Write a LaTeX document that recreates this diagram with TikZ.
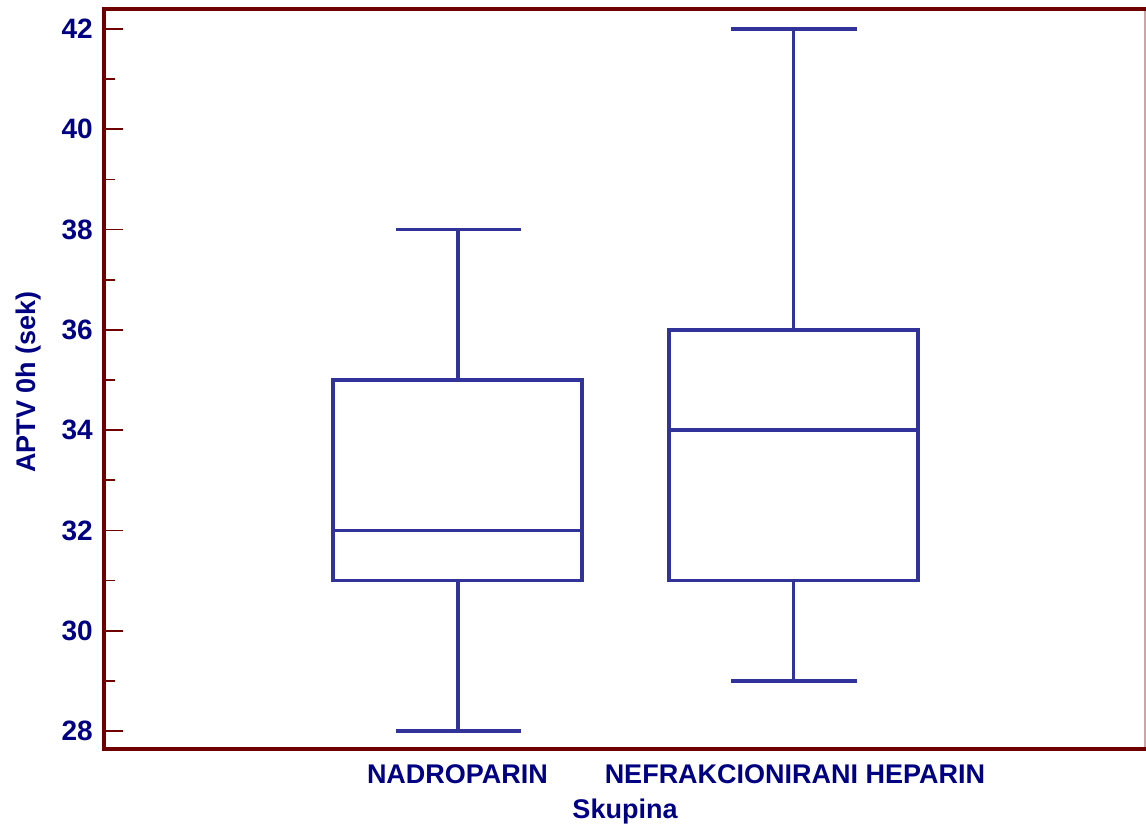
\documentclass[tikz,border=0pt]{standalone}
\usepackage{fontspec}
\setmainfont{Liberation Sans}
\definecolor{frame}{RGB}{110,0,0}
\definecolor{boxc}{RGB}{50,50,155}
\definecolor{txt}{RGB}{0,0,130}
\begin{document}
\begin{tikzpicture}[x=1pt,y=-1pt,
  framel/.style={draw=frame,line width=4pt},
  tickl/.style={draw=frame,line width=1.8pt},
  boxl/.style={draw=boxc,line width=3.6pt,line cap=rect},
  whisk/.style={draw=boxc,line width=3.6pt},
  ylab/.style={text=txt,font=\bfseries\fontsize{28}{28}\selectfont,anchor=east,inner sep=0pt},
  xlab/.style={text=txt,font=\bfseries\fontsize{27}{27}\selectfont,inner sep=0pt}]
\useasboundingbox (0,0) rectangle (1146,832);
% frame
\draw[draw=frame!35,line width=1.5pt] (1145,9) -- (1145,749);
\coordinate (tl) at (104,9);
\coordinate (tr) at (1146,9);
\coordinate (bl) at (104,749);
\coordinate (br) at (1146,749);
\draw[framel] (tr) -- (tl) -- (bl) -- (br);
% ticks
\foreach \v in {28,30,...,42}{
  \pgfmathsetmacro{\yy}{29+(42-\v)*50.14}
  \draw[tickl] (104,\yy) -- (123,\yy);
  \node[ylab] (t\v) at (93,\yy) {\v};
}
\foreach \v in {29,31,...,41}{
  \pgfmathsetmacro{\yy}{29+(42-\v)*50.14}
  \draw[tickl] (104,\yy) -- (115,\yy);
}
% box 1
\def\Y#1{29+(42-#1)*50.14}
\coordinate (a1) at (458,{\Y{38}});
\coordinate (a2) at (458,{\Y{35}});
\coordinate (a3) at (458,{\Y{31}});
\coordinate (a4) at (458,{\Y{28}});
\draw[whisk] (396,{\Y{38}}) -- (521,{\Y{38}});
\draw[whisk] (a1) -- (a2);
\draw[boxl] (333,{\Y{35}}) rectangle (582,{\Y{31}});
\draw[whisk] (333,{\Y{32}}) -- (582,{\Y{32}});
\draw[whisk] (a3) -- (a4);
\draw[whisk] (396,{\Y{28}}) -- (521,{\Y{28}});
% box 2
\coordinate (b1) at (793.5,{\Y{42}});
\coordinate (b2) at (793.5,{\Y{36}});
\coordinate (b3) at (793.5,{\Y{31}});
\coordinate (b4) at (793.5,{\Y{29}});
\draw[whisk] (731,{\Y{42}}) -- (857,{\Y{42}});
\draw[whisk] (b1) -- (b2);
\draw[boxl] (669,{\Y{36}}) rectangle (918,{\Y{31}});
\draw[whisk] (669,{\Y{34}}) -- (918,{\Y{34}});
\draw[whisk] (b3) -- (b4);
\draw[whisk] (731,{\Y{29}}) -- (857,{\Y{29}});
% labels
\node[xlab] (g1) at (457.5,774) {NADROPARIN};
\node[xlab] (g2) at (795,774) {NEFRAKCIONIRANI HEPARIN};
\node[xlab] (xt) at (625,812) {Skupina};
\node[xlab,rotate=90] (yt) at (29,382) {APTV 0h (sek)};
\end{tikzpicture}
\end{document}
